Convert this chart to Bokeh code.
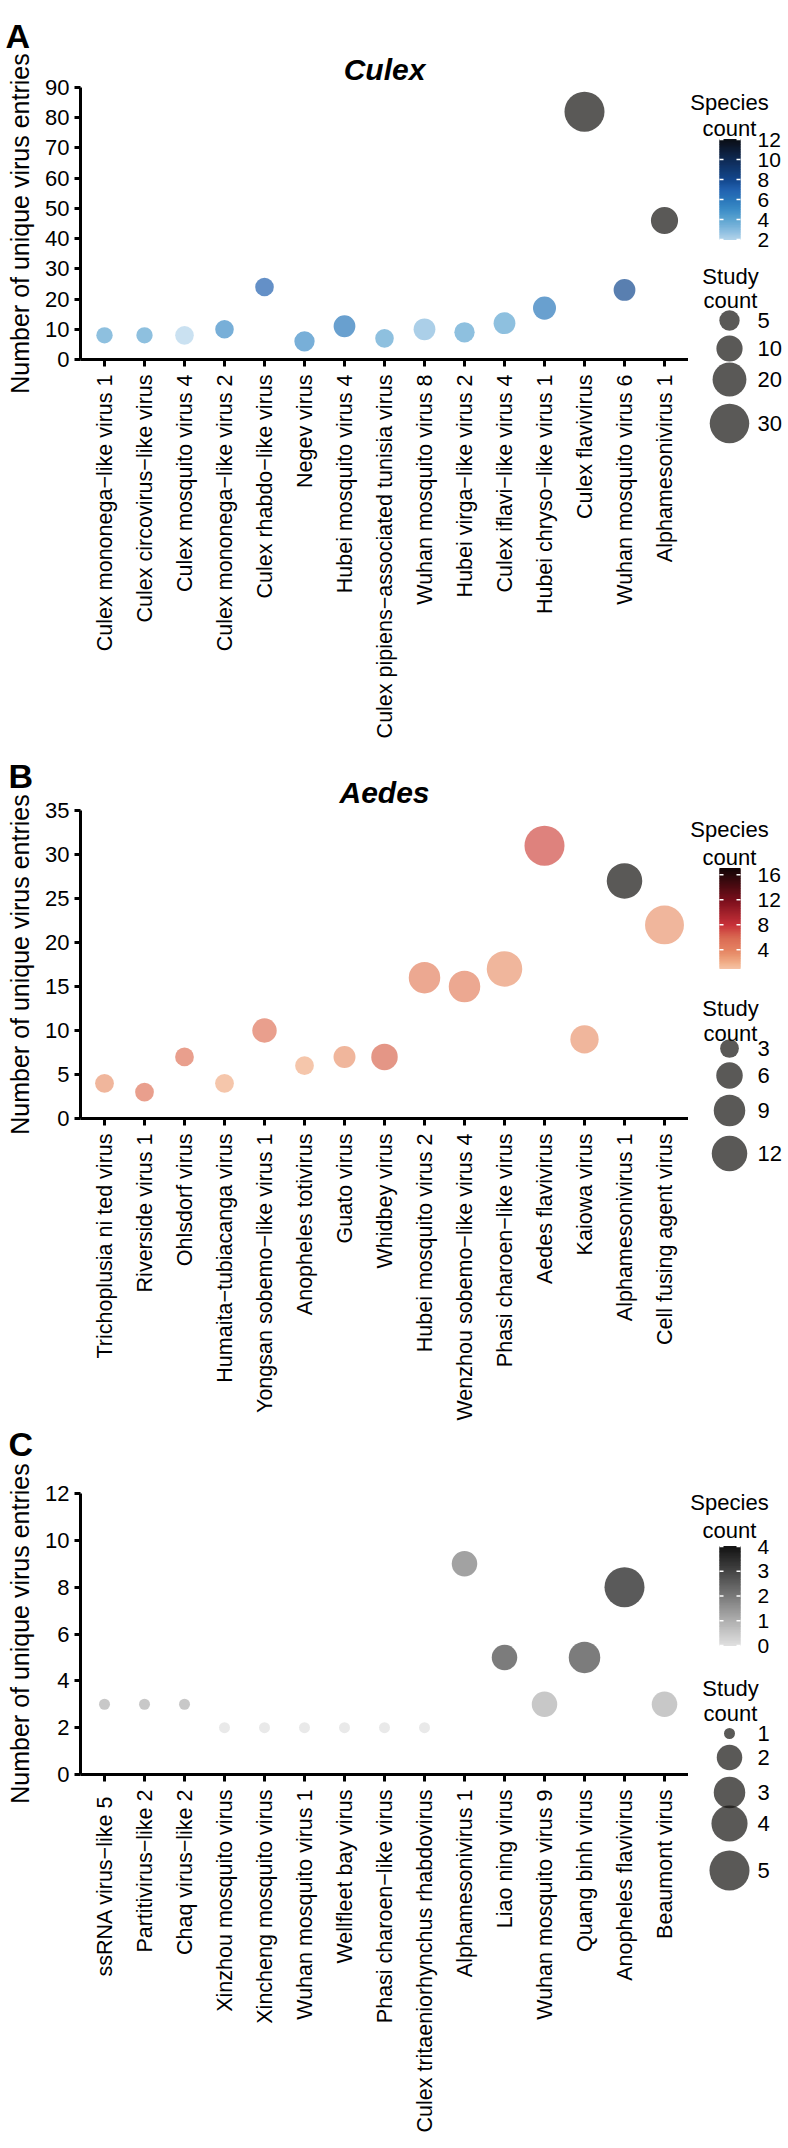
import math
import numpy as np
from bokeh.plotting import figure
from bokeh.models import Range1d, FixedTicker, LinearColorMapper, ColumnDataSource, Title
from bokeh.layouts import row, column
from bokeh.core.properties import value
from bokeh.embed import file_html
from bokeh.resources import INLINE

FONT = "Liberation Sans"
NAN = float("nan")

# ---------------- data ----------------
culex_viruses = ["Culex mononega\u2212like virus 1", "Culex circovirus\u2212like virus", "Culex mosquito virus 4",
                 "Culex mononega\u2212like virus 2", "Culex rhabdo\u2212like virus", "Negev virus",
                 "Hubei mosquito virus 4", "Culex pipiens\u2212associated tunisia virus", "Wuhan mosquito virus 8",
                 "Hubei virga\u2212like virus 2", "Culex iflavi\u2212like virus 4", "Hubei chryso\u2212like virus 1",
                 "Culex flavivirus", "Wuhan mosquito virus 6", "Alphamesonivirus 1"]
culex_entries = [8, 8, 8, 10, 24, 6, 11, 7, 10, 9, 12, 17, 82, 23, 46]
culex_species = [4, 4, 2, 5, 7, 5, 6, 4, 3, 4, 4, 6, NAN, 8, NAN]
culex_studies = [3, 3, 4, 4, 4, 5, 6, 4, 6, 5, 6, 7, 31, 6, 11]

aedes_viruses = ["Trichoplusia ni ted virus", "Riverside virus 1", "Ohlsdorf virus", "Humaita\u2212tubiacanga virus",
                 "Yongsan sobemo\u2212like virus 1", "Anopheles totivirus", "Guato virus", "Whidbey virus",
                 "Hubei mosquito virus 2", "Wenzhou sobemo\u2212like virus 4", "Phasi charoen\u2212like virus",
                 "Aedes flavivirus", "Kaiowa virus", "Alphamesonivirus 1", "Cell fusing agent virus"]
aedes_entries = [4, 3, 7, 4, 10, 6, 7, 7, 16, 15, 17, 31, 9, 27, 22]
aedes_species = [3, 5, 5, 2, 5, 2, 3, 6, 4, 4, 3, 7, 3, NAN, 3]
aedes_studies = [3, 3, 3, 3, 5, 3, 4, 6, 9, 9, 12, 16, 7, 12, 15]

anoph_viruses = ["ssRNA virus\u2212like  5", "Partitivirus\u2212like 2", "Chaq virus\u2212like 2",
                 "Xinzhou mosquito virus", "Xincheng mosquito virus", "Wuhan mosquito virus 1",
                 "Wellfleet bay virus", "Phasi charoen\u2212like virus", "Culex tritaeniorhynchus rhabdovirus",
                 "Alphamesonivirus 1", "Liao ning virus", "Wuhan mosquito virus 9", "Quang binh virus",
                 "Anopheles flavivirus", "Beaumont virus"]
anoph_entries = [3, 3, 3, 2, 2, 2, 2, 2, 2, 9, 5, 3, 5, 8, 3]
anoph_species = [1, 1, 1, 0, 0, 0, 0, 0, 0, 2, 3, 1, 3, 4, 1]
anoph_studies = [1, 1, 1, 1, 1, 1, 1, 1, 1, 2, 2, 2, 3, 5, 2]

culex_y_ticks = [0, 10, 20, 30, 40, 50, 60, 70, 80, 90]
aedes_y_ticks = [0, 5, 10, 15, 20, 25, 30, 35]
anoph_y_ticks = [0, 2, 4, 6, 8, 10, 12]

culex_species_ticks = [2, 4, 6, 8, 10, 12]
aedes_species_ticks = [4, 8, 12, 16]
anoph_species_ticks = [0, 1, 2, 3, 4]

culex_study_keys = [5, 10, 20, 30]
aedes_study_keys = [3, 6, 9, 12]
anoph_study_keys = [1, 2, 3, 4, 5]

panel_letters = ["A", "B", "C"]
panel_titles = ["Culex", "Aedes", None]
Y_TITLE = "Number of unique virus entries"

# ---------------- styling ----------------
ALPHA = 0.7
NA_COLOR = "#141210"
D_MIN, D_MAX = 11.0, 40.0
PAGE_H = 2148

culex_stops = [(2, "#b3d4eb"), (3, "#86bade"), (4, "#5ea5d1"), (5, "#3d8dc7"), (6, "#2a77ba"),
               (7, "#2262b0"), (8, "#13488e"), (10, "#0f2b56"), (12, "#0b0f17")]
aedes_stops = [(1, "#f6c3a6"), (2, "#f1ae88"), (3, "#ea9772"), (4, "#e48362"), (5, "#df765c"),
               (6, "#d96a52"), (8, "#c8323a"), (12, "#7a0f1c"), (17, "#140606")]
anoph_stops = [(0, "#e0e0e0"), (1, "#b0b0b0"), (2, "#7a7a7a"), (3, "#464646"), (4, "#141414")]


def hex_rgb(h):
    h = h.lstrip("#")
    return [int(h[i:i + 2], 16) for i in (0, 2, 4)]


def build_palette(stops, lo, hi, n=256):
    out = []
    for i in range(n):
        v = lo + (hi - lo) * i / (n - 1)
        seg = (stops[-2], stops[-1])
        for a, b in zip(stops[:-1], stops[1:]):
            if v <= b[0]:
                seg = (a, b)
                break
        (v0, c0), (v1, c1) = seg
        t = min(max((v - v0) / (v1 - v0), 0.0), 1.0)
        r0, r1 = hex_rgb(c0), hex_rgb(c1)
        rgb = [round(r0[k] + (r1[k] - r0[k]) * t) for k in range(3)]
        out.append("#%02x%02x%02x" % tuple(rgb))
    return out


def size_of(v, lo, hi):
    return D_MIN + (D_MAX - D_MIN) * math.sqrt(max(v - lo, 0) / (hi - lo))


def main_fig(labels, entries, species, studies, y_ticks, mapper, s_lo, s_hi,
             height, top, frame_h, title):
    n = len(labels)
    xs = list(range(1, n + 1))
    p = figure(width=648, height=height, x_range=Range1d(0.4, n + 0.6),
               y_range=Range1d(y_ticks[0], y_ticks[-1]),
               output_backend="svg", toolbar_location=None, frame_align=False,
               min_border_left=40, min_border_right=0, min_border_top=top,
               min_border_bottom=height - top - frame_h)
    p.grid.visible = False
    p.outline_line_color = None
    if title:
        p.add_layout(Title(text=title, align="center", text_font=FONT, text_font_size="30px",
                           text_font_style="bold italic", text_color="black", standoff=4), "above")

    src = ColumnDataSource(dict(x=xs, y=entries, species=np.array(species, dtype=float),
                                d=[size_of(s, s_lo, s_hi) for s in studies]))
    p.scatter(x="x", y="y", size="d", source=src,
              fill_color={"field": "species", "transform": mapper},
              fill_alpha=ALPHA, line_color=None)

    for ax in (p.xaxis, p.yaxis):
        ax.axis_line_width = 3
        ax.axis_line_color = "black"
        ax.major_tick_line_width = 3
        ax.major_tick_line_color = "black"
        ax.major_tick_in = 0
        ax.minor_tick_line_color = None
        ax.major_label_text_font = FONT
        ax.major_label_text_color = "black"
    p.xaxis.ticker = FixedTicker(ticks=xs)
    p.xaxis.major_label_overrides = {x: lab for x, lab in zip(xs, labels)}
    p.xaxis.major_label_orientation = math.pi / 2
    p.xaxis.major_label_text_font_size = "21.5px"
    p.xaxis.major_tick_out = 7
    p.xaxis.major_label_standoff = 8
    p.yaxis.ticker = FixedTicker(ticks=y_ticks)
    p.yaxis.major_label_text_font_size = "22px"
    p.yaxis.major_tick_out = 6
    p.yaxis.major_label_standoff = 5
    return p


# left strip: panel letters and y-axis titles
def strip_fig(letter_pos, title_centers):
    p = figure(width=40, height=PAGE_H, x_range=Range1d(0, 40), y_range=Range1d(PAGE_H, 0),
               x_axis_type=None, y_axis_type=None, output_backend="svg", toolbar_location=None,
               frame_align=False, min_border_left=0, min_border_right=0, min_border_top=0, min_border_bottom=0)
    p.grid.visible = False
    p.outline_line_color = None
    tf = value(FONT)
    p.text(x=[xy[0] for xy in letter_pos], y=[xy[1] for xy in letter_pos], text=panel_letters,
           text_font=tf, text_font_size=value("34px"), text_font_style="bold",
           text_align="left", text_baseline="alphabetic", text_color="black")
    p.text(x=[19] * len(title_centers), y=title_centers, text=[Y_TITLE] * len(title_centers),
           angle=math.pi / 2, text_font=tf, text_font_size=value("25px"),
           text_align="center", text_baseline="middle", text_color="black")
    return p


def legend_fig(specs):
    p = figure(width=100, height=PAGE_H, x_range=Range1d(688, 788), y_range=Range1d(PAGE_H, 0),
               x_axis_type=None, y_axis_type=None, output_backend="svg", toolbar_location=None,
               frame_align=False, min_border_left=0, min_border_right=0, min_border_top=0, min_border_bottom=0)
    p.grid.visible = False
    p.outline_line_color = None
    tf = value(FONT)

    def txt(x, y, s, size="22px", align="center", baseline="alphabetic"):
        p.text(x=[x], y=[y], text=[s], text_font=tf, text_font_size=value(size),
               text_align=align, text_baseline=baseline, text_color="black")

    for (mapper, c_lo, c_hi, c_ticks, keys, s_lo, s_hi, lay) in specs:
        txt(729, lay["sp1"], "Species")
        txt(729, lay["sp2"], "count")
        T, B = lay["cbar"]
        N = 120
        vs, tops, bots = [], [], []
        for i in range(N):
            vs.append(c_lo + (i + 0.5) / N * (c_hi - c_lo))
            bots.append(B - i * (B - T) / N + 0.5)
            tops.append(B - (i + 1) * (B - T) / N - 0.5)
        p.quad(left=719, right=740, top="t", bottom="b",
               source=ColumnDataSource(dict(v=vs, t=tops, b=bots)),
               fill_color={"field": "v", "transform": mapper}, line_color=None)
        ty = [B - (v - c_lo) / (c_hi - c_lo) * (B - T) for v in c_ticks]
        p.segment(x0=[719] * len(ty), x1=[723] * len(ty), y0=ty, y1=ty, line_color="white", line_width=1.5)
        p.segment(x0=[736] * len(ty), x1=[740] * len(ty), y0=ty, y1=ty, line_color="white", line_width=1.5)
        for v, y in zip(c_ticks, ty):
            txt(757, y, str(v), size="21px", align="left", baseline="middle")
        txt(730, lay["st1"], "Study")
        txt(730, lay["st2"], "count")
        cy = lay["keys"]
        p.scatter(x=[729] * len(keys), y=cy, size=[size_of(k, s_lo, s_hi) for k in keys],
                  fill_color=NA_COLOR, fill_alpha=ALPHA, line_color=None)
        for k, y in zip(keys, cy):
            txt(757, y, str(k), size="22px", align="left", baseline="middle")
    return p


mapA = LinearColorMapper(palette=build_palette(culex_stops, 2, 12), low=2, high=12, nan_color=NA_COLOR)
mapB = LinearColorMapper(palette=build_palette(aedes_stops, 1, 17), low=1, high=17, nan_color=NA_COLOR)
mapC = LinearColorMapper(palette=build_palette(anoph_stops, 0, 4), low=0, high=4, nan_color=NA_COLOR)

figA = main_fig(culex_viruses, culex_entries, culex_species, culex_studies, culex_y_ticks, mapA, 2, 31,
                748, 87, 272, panel_titles[0])
figB = main_fig(aedes_viruses, aedes_entries, aedes_species, aedes_studies, aedes_y_ticks, mapB, 2, 16,
                697, 62, 308, panel_titles[1])
figC = main_fig(anoph_viruses, anoph_entries, anoph_species, anoph_studies, anoph_y_ticks, mapC, 1, 5,
                703, 48, 281, panel_titles[2])

strip = strip_fig([(5, 35), (8, 775), (8, 1443)], [223, 964, 1633])

legend = legend_fig([
    (mapA, 2, 12, culex_species_ticks, culex_study_keys, 2, 31,
     dict(sp1=102, sp2=128, cbar=(139, 239), st1=276, st2=300, keys=[320, 348, 379, 423])),
    (mapB, 1, 17, aedes_species_ticks, aedes_study_keys, 2, 16,
     dict(sp1=829, sp2=857, cbar=(868, 968), st1=1008, st2=1033, keys=[1048, 1075, 1110, 1153])),
    (mapC, 0, 4, anoph_species_ticks, anoph_study_keys, 1, 5,
     dict(sp1=1502, sp2=1530, cbar=(1546, 1645), st1=1688, st2=1713, keys=[1733, 1757, 1792, 1823, 1870])),
])

layout = row(strip, column(figA, figB, figC), legend)
open("out.html", "w").write(file_html(layout, INLINE))
